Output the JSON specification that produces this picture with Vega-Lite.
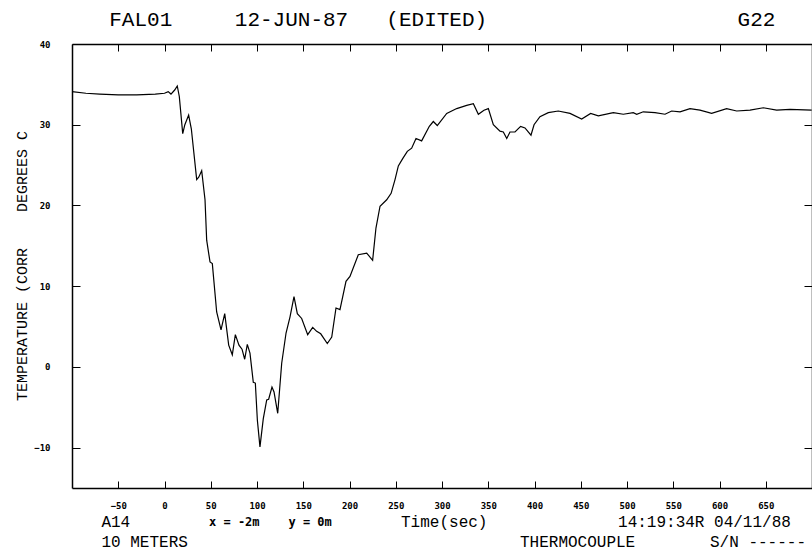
{
  "$schema": "https://vega.github.io/schema/vega-lite/v6.json",
  "width": 740,
  "height": 444,
  "autosize": {"type": "none"},
  "padding": {"left": 72, "top": 44, "right": 0, "bottom": 71},
  "background": "white",
  "config": {
    "view": {"stroke": null},
    "axis": {
      "domainColor": "black", "domainWidth": 1.5, "tickColor": "black", "tickWidth": 1,
      "labelColor": "black", "labelFont": "DejaVu Sans Mono", "labelFontSize": 9, "labelFontWeight": "bold",
      "grid": false
    },
    "text": {"font": "Liberation Mono", "color": "black"}
  },
  "datasets": {
    "trace": [
      {"t": -100, "v": 34.1}, {"t": -85, "v": 33.9}, {"t": -70, "v": 33.8}, {"t": -50, "v": 33.7},
      {"t": -30, "v": 33.7}, {"t": -10, "v": 33.8}, {"t": 0, "v": 33.9}, {"t": 4, "v": 34.1},
      {"t": 7, "v": 33.8}, {"t": 11, "v": 34.3}, {"t": 13.8, "v": 34.8}, {"t": 16, "v": 33.5},
      {"t": 19.7, "v": 28.9}, {"t": 22, "v": 30.0}, {"t": 26.1, "v": 31.2}, {"t": 29, "v": 29.5},
      {"t": 34.8, "v": 23.2}, {"t": 37, "v": 23.5}, {"t": 40.2, "v": 24.3}, {"t": 43.8, "v": 20.7},
      {"t": 45.6, "v": 15.7}, {"t": 49.2, "v": 13.0}, {"t": 51.7, "v": 12.8}, {"t": 56.4, "v": 6.8},
      {"t": 61.1, "v": 4.6}, {"t": 65.1, "v": 6.6}, {"t": 69.4, "v": 2.7}, {"t": 73.3, "v": 1.5},
      {"t": 76.6, "v": 4.0}, {"t": 80.5, "v": 2.7}, {"t": 83.8, "v": 2.2}, {"t": 86.7, "v": 0.95},
      {"t": 89.5, "v": 2.8}, {"t": 92.4, "v": 1.7}, {"t": 96, "v": -1.9}, {"t": 98.2, "v": -2.0},
      {"t": 100.4, "v": -6.6}, {"t": 103.2, "v": -9.9}, {"t": 106.8, "v": -6.4}, {"t": 110.5, "v": -4.1},
      {"t": 112.6, "v": -4.0}, {"t": 116.2, "v": -2.5}, {"t": 118.4, "v": -3.1}, {"t": 122.4, "v": -5.75},
      {"t": 126.7, "v": 0.45}, {"t": 131.4, "v": 4.2}, {"t": 135.7, "v": 6.2}, {"t": 140, "v": 8.7},
      {"t": 143.6, "v": 6.6}, {"t": 148.3, "v": 6.0}, {"t": 154.8, "v": 4.0}, {"t": 160.2, "v": 4.9},
      {"t": 164.5, "v": 4.4}, {"t": 168.9, "v": 4.1}, {"t": 176, "v": 2.9}, {"t": 180.8, "v": 3.7},
      {"t": 185.4, "v": 7.3}, {"t": 189.7, "v": 7.1}, {"t": 196.2, "v": 10.6}, {"t": 200.5, "v": 11.2},
      {"t": 209.5, "v": 13.9}, {"t": 218.6, "v": 14.1}, {"t": 225, "v": 13.2}, {"t": 228.6, "v": 17.2},
      {"t": 233, "v": 19.9}, {"t": 240.2, "v": 20.7}, {"t": 245, "v": 21.5}, {"t": 249.2, "v": 23.2},
      {"t": 252.8, "v": 24.9}, {"t": 257.5, "v": 25.8}, {"t": 262.5, "v": 26.7}, {"t": 267.2, "v": 27.1},
      {"t": 271.9, "v": 28.3}, {"t": 278, "v": 28.0}, {"t": 286.3, "v": 29.8}, {"t": 290.6, "v": 30.4},
      {"t": 294.9, "v": 29.9}, {"t": 305.1, "v": 31.4}, {"t": 315.9, "v": 32.0}, {"t": 326.7, "v": 32.4},
      {"t": 333.9, "v": 32.6}, {"t": 339.3, "v": 31.3}, {"t": 345.4, "v": 31.8}, {"t": 350.1, "v": 32.0},
      {"t": 355.5, "v": 30.0}, {"t": 362.7, "v": 29.2}, {"t": 366.3, "v": 29.1}, {"t": 370, "v": 28.3},
      {"t": 373.5, "v": 29.1}, {"t": 378.9, "v": 29.1}, {"t": 385, "v": 29.8}, {"t": 389.7, "v": 29.6},
      {"t": 396.2, "v": 28.7}, {"t": 399.5, "v": 30.0}, {"t": 405.9, "v": 31.0}, {"t": 414.9, "v": 31.5},
      {"t": 425.7, "v": 31.7}, {"t": 438.4, "v": 31.4}, {"t": 451, "v": 30.7}, {"t": 460.7, "v": 31.4},
      {"t": 469, "v": 31.1}, {"t": 485.2, "v": 31.5}, {"t": 496, "v": 31.3}, {"t": 506.8, "v": 31.5},
      {"t": 510.5, "v": 31.3}, {"t": 517.6, "v": 31.6}, {"t": 530.3, "v": 31.5}, {"t": 541.1, "v": 31.3},
      {"t": 548.3, "v": 31.7}, {"t": 557.3, "v": 31.6}, {"t": 568.1, "v": 32.0}, {"t": 578.9, "v": 31.8},
      {"t": 591.5, "v": 31.4}, {"t": 607.7, "v": 32.0}, {"t": 618.6, "v": 31.7}, {"t": 633, "v": 31.8},
      {"t": 647.4, "v": 32.1}, {"t": 661.8, "v": 31.8}, {"t": 676.2, "v": 31.9}, {"t": 699.6, "v": 31.8}
    ],
    "labels": [
      {"label": "FAL01", "t": -25.7, "v": 42.97, "kind": "head"},
      {"label": "12-JUN-87", "t": 137.3, "v": 42.97, "kind": "head"},
      {"label": "(EDITED)", "t": 294.3, "v": 42.97, "kind": "head"},
      {"label": "G22", "t": 640, "v": 42.97, "kind": "head"},
      {"label": "A14", "t": -68.2, "v": -19.21, "kind": "foot"},
      {"label": "10 METERS", "t": -68.2, "v": -21.69, "kind": "foot"},
      {"label": "Time(sec)", "t": 255.7, "v": -19.21, "kind": "foot"},
      {"label": "14:19:34R 04/11/88", "t": 490.3, "v": -19.21, "kind": "foot"},
      {"label": "THERMOCOUPLE", "t": 384.3, "v": -21.69, "kind": "foot"},
      {"label": "S/N ------", "t": 589.7, "v": -21.69, "kind": "foot"}
    ],
    "one": [{}]
  },
  "layer": [
    {
      "data": {"name": "trace"},
      "mark": {"type": "line", "color": "black", "strokeWidth": 1.2, "interpolate": "linear"},
      "encoding": {
        "x": {"field": "t", "type": "quantitative",
              "scale": {"domain": [-100, 700], "nice": false, "zero": false},
              "axis": {"orient": "bottom", "values": [-50, 0, 50, 100, 150, 200, 250, 300, 350, 400, 450, 500, 550, 600, 650],
                       "tickSize": -7, "labelPadding": 20, "title": null}},
        "y": {"field": "v", "type": "quantitative",
              "scale": {"domain": [-15, 40], "nice": false, "zero": false},
              "axis": {"orient": "left", "values": [-10, 0, 10, 20, 30, 40], "tickSize": -8, "labelPadding": 30, "title": null}}
      }
    },
    {
      "data": {"name": "trace"},
      "mark": {"type": "line", "opacity": 0},
      "encoding": {
        "x": {"field": "t", "type": "quantitative",
              "scale": {"domain": [-100, 700], "nice": false, "zero": false},
              "axis": {"orient": "top", "values": [-50, 0, 50, 100, 150, 200, 250, 300, 350, 400, 450, 500, 550, 600, 650],
                       "tickSize": -7, "labels": false, "title": null}},
        "y": {"field": "v", "type": "quantitative",
              "scale": {"domain": [-15, 40], "nice": false, "zero": false},
              "axis": {"orient": "right", "values": [-10, 0, 10, 20, 30, 40], "tickSize": -8, "labels": false, "title": null}}
      }
    },
    {
      "data": {"name": "labels"},
      "transform": [{"filter": "datum.kind === 'head'"}],
      "mark": {"type": "text", "fontSize": 21, "align": "center", "baseline": "middle", "clip": false},
      "encoding": {
        "x": {"field": "t", "type": "quantitative", "scale": {"domain": [-100, 700], "nice": false, "zero": false}, "axis": null},
        "y": {"field": "v", "type": "quantitative", "scale": {"domain": [-15, 40], "nice": false, "zero": false}, "axis": null},
        "text": {"field": "label"}
      }
    },
    {
      "data": {"name": "labels"},
      "transform": [{"filter": "datum.kind === 'foot'"}],
      "mark": {"type": "text", "fontSize": 16, "align": "left", "baseline": "middle", "clip": false},
      "encoding": {
        "x": {"field": "t", "type": "quantitative", "scale": {"domain": [-100, 700], "nice": false, "zero": false}, "axis": null},
        "y": {"field": "v", "type": "quantitative", "scale": {"domain": [-15, 40], "nice": false, "zero": false}, "axis": null},
        "text": {"field": "label"}
      }
    },
    {
      "data": {"name": "one"},
      "mark": {"type": "text", "fontSize": 12, "font": "DejaVu Sans Mono", "fontWeight": "bold", "align": "left", "baseline": "middle", "clip": false},
      "encoding": {
        "x": {"datum": 48.1, "type": "quantitative", "scale": {"domain": [-100, 700], "nice": false, "zero": false}, "axis": null},
        "y": {"datum": -19.2, "type": "quantitative", "scale": {"domain": [-15, 40], "nice": false, "zero": false}, "axis": null},
        "text": {"value": "x = -2m\u00a0\u00a0\u00a0\u00a0y = 0m"}
      }
    },
    {
      "data": {"name": "one"},
      "mark": {"type": "text", "fontSize": 15, "angle": 270, "align": "center", "baseline": "middle", "clip": false},
      "encoding": {
        "x": {"datum": -154, "type": "quantitative", "scale": {"domain": [-100, 700], "nice": false, "zero": false}, "axis": null},
        "y": {"datum": 12.5, "type": "quantitative", "scale": {"domain": [-15, 40], "nice": false, "zero": false}, "axis": null},
        "text": {"value": "TEMPERATURE (CORR\u00a0\u00a0\u00a0\u00a0DEGREES C"}
      }
    }
  ],
  "resolve": {"axis": {"x": "independent", "y": "independent"}}
}
